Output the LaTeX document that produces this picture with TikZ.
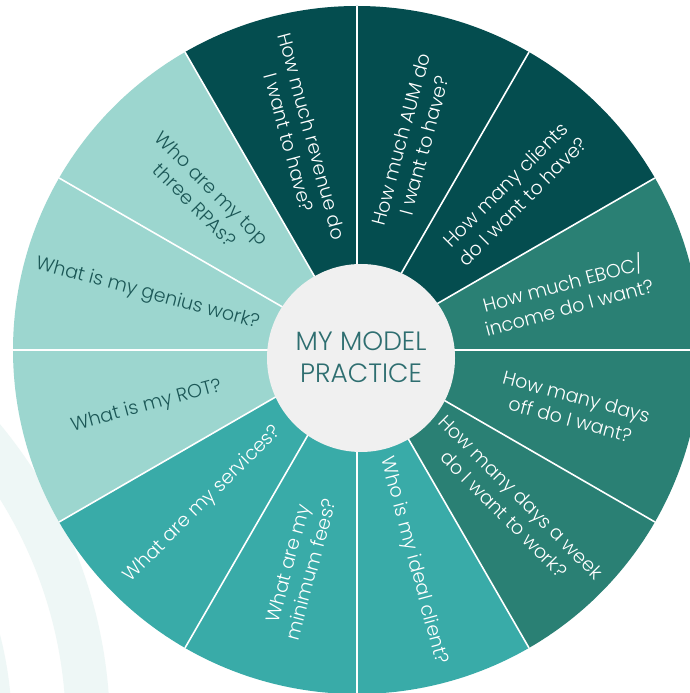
\documentclass[tikz,border=0pt]{standalone}
\usepackage{fontspec}
\setmainfont{Poppins}[UprightFont={* Light}]
\usetikzlibrary{calc}
\definecolor{cdark}{HTML}{044D4F}
\definecolor{cmed}{HTML}{2A8074}
\definecolor{cteal}{HTML}{39ABA8}
\definecolor{clight}{HTML}{9CD6CF}
\definecolor{cbg}{HTML}{EEF7F6}
\definecolor{ccirc}{HTML}{F0F0F0}
\definecolor{ctxtdark}{HTML}{1B5756}
\definecolor{ccenter}{HTML}{2E6E70}
\tikzset{
  qtext/.style={align=center, font=\fontsize{19}{24}\selectfont, inner sep=0pt},
  qwhite/.style={qtext, text=white},
  qdarktxt/.style={qtext, text=ctxtdark},
  sep/.style={draw=white, line width=1.6pt},
}
\begin{document}
\begin{tikzpicture}[x=1pt,y=1pt]
\useasboundingbox (0,0) rectangle (690,693);
\clip (0,0) rectangle (690,693);
\fill[white] (0,0) rectangle (690,693);
% background bands
\coordinate (B) at (-370,-37);
\fill[cbg, even odd rule] (B) circle[radius=480] (B) circle[radius=436];
\fill[cbg, even odd rule] (B) circle[radius=382] (B) circle[radius=330];
% wheel
\coordinate (C) at (357,343);
\def\R{344}
\foreach \a/\col in {0/cmed,30/cdark,60/cdark,90/cdark,120/clight,150/clight,180/clight,210/cteal,240/cteal,270/cteal,300/cmed,330/cmed}{
  \fill[\col] (C) -- ++(\a:\R) arc[start angle=\a, end angle=\a+30, radius=\R] -- cycle;
}
\foreach \a in {0,30,...,330}{
  \draw[sep] (C) -- ++(\a:\R);
}
% center circle
\node[circle, fill=ccirc, minimum size=188pt, inner sep=0pt] (mid) at (361,335) {};
\node[align=center, text=ccenter, font=\fontsize{26.5}{32}\selectfont] (title) at (361,336) {MY MODEL\\PRACTICE};
% questions
\node[qwhite, rotate=-75] (q1) at ($(C)+(105:218)$) {How much revenue do\\I want to have?};
\node[qwhite, rotate=75] (q2) at ($(C)+(75:215)$) {How much AUM do\\I want to have?};
\node[qwhite, rotate=45] (q3) at ($(C)+(45:222)$) {How many clients\\do I want to have?};
\node[qwhite, rotate=15] (q4) at ($(C)+(15:216)$) {How much EBOC/\\income do I want?};
\node[qwhite, rotate=-15] (q5) at ($(C)+(-15:224)$) {How many days\\off do I want?};
\node[qwhite, rotate=-45] (q6) at ($(C)+(-45:220)$) {How many days a week\\do I want to work?};
\node[qwhite, rotate=-75] (q7) at ($(C)+(-75:218)$) {Who is my ideal client?};
\node[qwhite, rotate=75] (q8) at ($(C)+(-105:224)$) {What are my\\minimum fees?};
\node[qwhite, rotate=45] (q9) at ($(C)+(-135:218)$) {What are my services?};
\node[qdarktxt, rotate=15] (q10) at ($(C)+(195:218)$) {What is my ROT?};
\node[qdarktxt, rotate=-15] (q11) at ($(C)+(165:217)$) {What is my genius work?};
\node[qdarktxt, rotate=-45] (q12) at ($(C)+(135:217)$) {Who are my top\\three RPAs?};
\end{tikzpicture}
\end{document}
